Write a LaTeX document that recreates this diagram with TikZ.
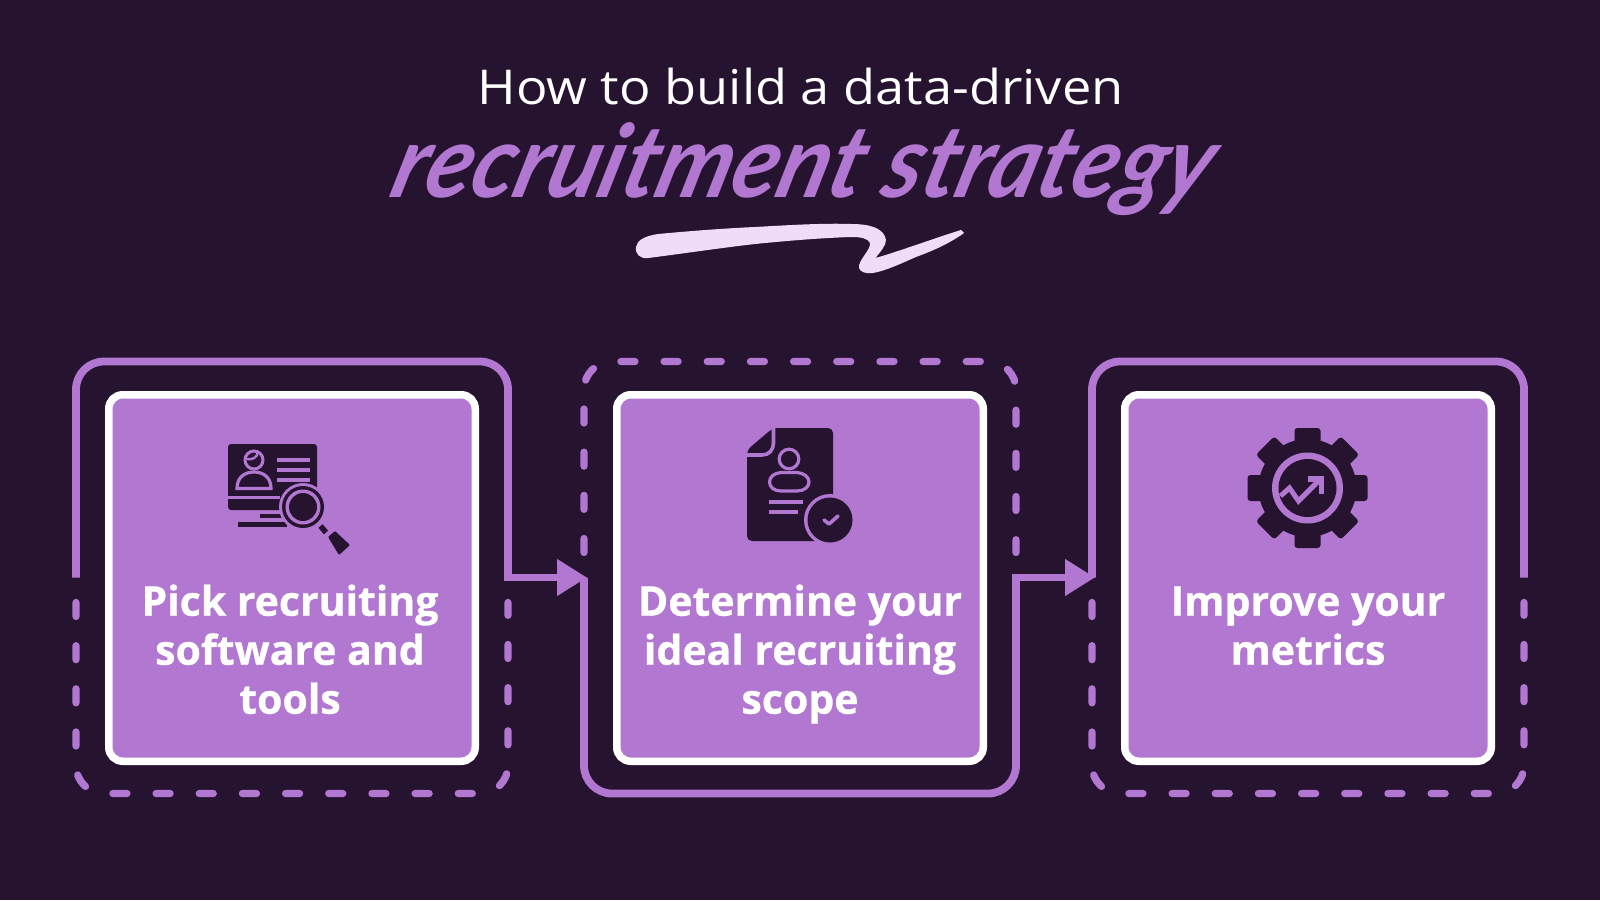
\documentclass[tikz,border=0pt]{standalone}
\usepackage{fontspec}
\usetikzlibrary{arrows.meta}
\setmainfont[BoldFeatures={FakeBold=0.7}]{Open Sans}
\newfontfamily\headfont{Open Sans}
\newfontfamily\brushfont{Lato}
\newcommand\firstline{\rule{0pt}{32pt}}
\definecolor{bgc}{HTML}{26132F}
\definecolor{pur}{HTML}{B177D1}
\definecolor{lit}{HTML}{F0DCF8}
\tikzset{
  framebox/.style={minimum width=432pt,minimum height=432pt,inner sep=0pt,outer sep=0pt},
  card/.style={draw=white,line width=7.5pt,fill=pur,rounded corners=14pt,minimum width=366.5pt,minimum height=366.5pt,inner sep=0pt,outer sep=0pt},
  solidrim/.style={draw=pur,line width=7.8pt,rounded corners=28pt},
  dashrim/.style={draw=pur,line width=7.3pt,rounded corners=28pt,line cap=round,dash pattern=on 14pt off 29.17pt},
  flow/.style={draw=pur,line width=7.8pt,shorten <=-3.9pt,shorten >=-3pt,-{Triangle[length=30pt,width=35pt]}},
  cardtext/.style={font=\bfseries\fontsize{41}{49}\selectfont,text=white,align=center,inner sep=0pt,anchor=north},
  icondark/.style={fill=bgc,draw=none},
  iconline/.style={draw=pur,line width=3.2pt},
  iconhalo/.style={fill=pur,draw=none}
}
\begin{document}
\begin{tikzpicture}[x=1pt,y=-1pt]
\fill[bgc] (0,0) rectangle (1600,900);
\useasboundingbox (0,0) rectangle (1600,900);
% title
\begin{scope}[shift={(800.5,104)},xscale=1.09]
\node[transform shape,font=\headfont\fontsize{48}{48}\selectfont,text=white,anchor=base,inner sep=0pt] (title) at (0,0) {How to build a data-driven};
\end{scope}
\begin{scope}[shift={(797,197)},xslant=.28,xscale=1.075,yscale=1.15]
\node[transform shape,font=\brushfont\bfseries\itshape\fontsize{88}{88}\selectfont,text=pur,anchor=base,inner sep=0pt] (script) at (0,0) {recruitment strategy};
\end{scope}
% swoosh
\fill[lit] (636,247) .. controls (637,240) and (645,236) .. (658,234)
  .. controls (690,231) and (730,228) .. (755,227)
  .. controls (790,225) and (825,223) .. (851,224)
  .. controls (870,224) and (884,228) .. (886,240)
  .. controls (886,246) and (880,252) .. (875.5,258)
  .. controls (900,251) and (935,238) .. (961,230)
  -- (964,233) .. controls (950,243) and (935,250) .. (916,257)
  .. controls (900,264) and (885,271) .. (873,273)
  .. controls (866,274) and (860,272) .. (859,268)
  .. controls (858,260) and (871,250) .. (870,243)
  .. controls (868,238) and (860,237) .. (851,237)
  .. controls (820,238) and (785,241) .. (755,244)
  .. controls (720,248) and (680,254) .. (648,258)
  .. controls (640,259) and (635,254) .. (636,247) -- cycle;
% frames
\node[framebox] (frameA) at (292,577.5) {};
\node[framebox] (frameB) at (800,577.5) {};
\node[framebox] (frameC) at (1308,577.5) {};
\draw[solidrim] (frameA.west) |- (frameA.north) -| (frameA.east);
\draw[dashrim] ([yshift=-25pt]frameA.west) |- (frameA.south) -| ([yshift=-25pt]frameA.east);
\draw[dashrim] ([yshift=25pt]frameB.west) |- (frameB.north) -| ([yshift=25pt]frameB.east);
\draw[solidrim] (frameB.west) |- (frameB.south) -| (frameB.east);
\draw[solidrim] (frameC.west) |- (frameC.north) -| (frameC.east);
\draw[dashrim] ([yshift=-25pt]frameC.west) |- (frameC.south) -| ([yshift=-25pt]frameC.east);
\draw[flow] (frameA.east) -- (frameB.west);
\draw[flow] (frameB.east) -- (frameC.west);
% cards
\node[card] (cardA) at (292,578) {};
\node[card] (cardB) at (800,578) {};
\node[card] (cardC) at (1308,578) {};
\node[cardtext] (textA) at (290,583.5) {\firstline Pick recruiting\\software and\\tools};
\node[cardtext] (textB) at (800,583.5) {\firstline Determine your\\ideal recruiting\\scope};
\node[cardtext] (textC) at (1308,583.5) {\firstline Improve your\\metrics};
% icon A
\fill[icondark,rounded corners=3pt] (228,444) rectangle (317,510);
\draw[iconline,line width=3pt] (228,497) -- (280,497);
\foreach \yy in {460,470,480} \draw[iconline] (277,\yy) -- (310,\yy);
\draw[iconline,line width=3pt] (254,460) circle (9);
\draw[iconline,line width=2.4pt] (247,459) .. controls (252,460) and (257,458) .. (258,452);
\draw[iconline,line width=3.2pt] (237,488.5) .. controls (237,477) and (245,472) .. (254,472) .. controls (263,472) and (271,477) .. (271,488.5) -- cycle;
\fill[icondark] (260,513.5) rectangle (282,518);
\fill[icondark] (238,521.5) rectangle (287,526.5);
\fill[iconhalo] (303,507) circle (24);
\fill[icondark] (303,507) circle (21);
\fill[iconhalo] (303,507) circle (17.5);
\fill[icondark] (303,507) circle (14);
\draw[bgc,line width=5.5pt] (320.5,526) -- (326,532.5);
\fill[icondark,rounded corners=1pt] (328,537) -- (335,531) -- (350,545) -- (339,555) -- cycle;
% icon B
\fill[icondark,rounded corners=5pt] (773,428) -- (833,428) -- (833,541) -- (747,541) -- (747,450) -- cycle;
\draw[iconline,line width=3.6pt] (773.5,424) -- (773.5,443) .. controls (773.5,450) and (769,455) .. (762,455) -- (745,455);
\draw[iconline] (789,459) circle (9.8);
\draw[iconline] (781,472.5) -- (797,472.5) .. controls (804,473) and (809,477) .. (809,482) .. controls (809,487) and (804,491) .. (797,491) -- (781,491) .. controls (774,491) and (769.5,487) .. (769.5,482) .. controls (769.5,477) and (774,473) .. (781,472.5) -- cycle;
\draw[iconline] (769,502) -- (803,502);
\draw[iconline] (769,512) -- (798,512);
\fill[iconhalo] (830,520) circle (26);
\fill[icondark] (830,520) circle (22.5);
\draw[iconline,line width=3.6pt,line cap=round,line join=round] (824,520) -- (829,524) -- (838,516);
% icon C
\begin{scope}[shift={(1307.5,488)}]
\foreach \aa in {0,45,...,315}{
  \fill[icondark,rotate=\aa,rounded corners=3pt] (-13,-60) rectangle (13,-30);
}
\fill[icondark] (0,0) circle (49);
\fill[iconhalo] (0,0) circle (35.5);
\fill[icondark] (0,0) circle (29);
\draw[draw=pur,line width=5pt,line join=miter] (-27,8) -- (-18,0) -- (-9,13) -- (13,-9);
\draw[draw=pur,line width=5.5pt,line join=miter] (0,-9) -- (14,-9) -- (14,6);
\end{scope}
\end{tikzpicture}
\end{document}
